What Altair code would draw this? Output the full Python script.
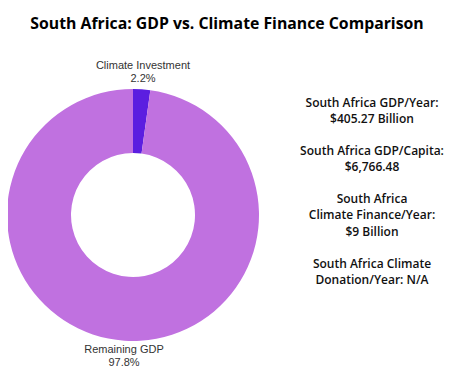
import altair as alt
import pandas as pd

categories = ["Climate Investment", "Remaining GDP"]
shares = [2.2, 97.8]
colors = ["#5b1ee0", "#c071e0"]

title_text = "South Africa: GDP vs. Climate Finance Comparison"
info_lines = [
    "South Africa GDP/Year:",
    "$405.27 Billion",
    "South Africa GDP/Capita:",
    "$6,766.48",
    "South Africa",
    "Climate Finance/Year:",
    "$9 Billion",
    "South Africa Climate",
    "Donation/Year: N/A",
]
info_y = [95, 111, 143, 159, 191, 207, 224, 256, 272]

df = pd.DataFrame({
    "category": categories,
    "share": shares,
    "order": [0, 1],
})
df["label"] = df["category"] + "\n" + df["share"].map(lambda v: f"{v:.1f}%")

W, H = 437, 360
cx, cy = 125, 207

base = alt.Chart(df)

arc = base.mark_arc(outerRadius=126, innerRadius=62, stroke=None).encode(
    theta=alt.Theta("share:Q", stack=True),
    order=alt.Order("order:Q"),
    color=alt.Color("category:N", scale=alt.Scale(domain=categories, range=colors), legend=None),
    x=alt.value(cx),
    y=alt.value(cy),
)

lbl_style = dict(lineBreak="\n", lineHeight=13, font="Liberation Sans", fontSize=11,
                 color="#333333", baseline="middle")

lbl_top = base.transform_filter(alt.datum.category == categories[0]).mark_text(**lbl_style).encode(
    text="label:N", x=alt.value(135), y=alt.value(58))

lbl_bot = base.transform_filter(alt.datum.category == categories[1]).mark_text(**lbl_style).encode(
    text="label:N", x=alt.value(116), y=alt.value(342))

info_df = pd.DataFrame({"line": info_lines, "y": info_y})
info = alt.Chart(info_df).mark_text(
    font="Open Sans", fontSize=12, fontWeight=600, color="#111111", baseline="middle"
).encode(
    text="line:N",
    x=alt.value(364),
    y=alt.Y("y:Q", scale=alt.Scale(domain=[0, H], range=[0, H]), axis=None),
)

title_df = pd.DataFrame({"t": [title_text]})
title = alt.Chart(title_df).mark_text(
    font="Open Sans", fontSize=15.8, fontWeight="bold", color="#000000", baseline="middle"
).encode(text="t:N", x=alt.value(219), y=alt.value(16))

chart = alt.layer(arc, lbl_top, lbl_bot, info, title).properties(
    width=W, height=H, autosize=alt.AutoSizeParams(type="none"), padding=0,
    background="white"
).configure_view(stroke=None)

chart.save("out.html", embed_options={"renderer": "svg", "actions": False})
